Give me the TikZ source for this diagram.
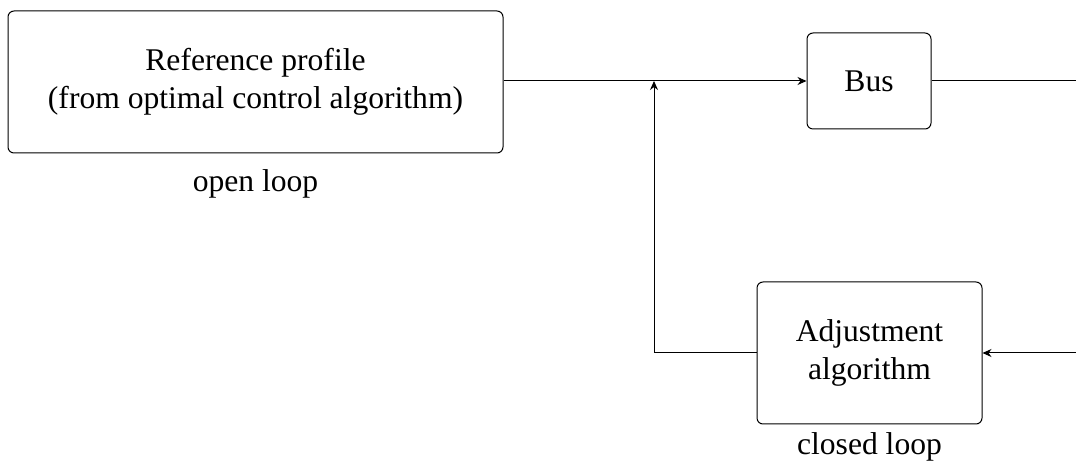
\documentclass[tikz,border=0pt]{standalone}
\usepackage{fontspec}
\setmainfont{Liberation Serif}
\usetikzlibrary{arrows.meta}
\begin{document}
\begin{tikzpicture}[x=0.5pt,y=-0.5pt,
  blk/.style={draw,rounded corners=3pt,line width=0.5pt,align=center,inner sep=0pt,font=\fontsize{15.8}{19}\selectfont},
  lbl/.style={font=\fontsize{15.8}{19}\selectfont,inner sep=0pt},
  conn/.style={line width=0.5pt},
  arr/.style={line width=0.5pt,-{Stealth[length=4.5pt,width=4pt]}}]
\useasboundingbox (0,0) rectangle (1076,469);
\node[blk,minimum width=247.5pt,minimum height=71pt] (ref) at (255.5,82) {Reference profile\\(from optimal control algorithm)};
\node[lbl] (open) at (255.5,184) {open loop};
\node[blk,minimum width=62pt,minimum height=48pt] (bus) at (869,81) {Bus};
\node[blk,minimum width=112.5pt,minimum height=71pt] (adj) at (869.5,353) {Adjustment\\algorithm};
\node[lbl] (closed) at (869.5,447) {closed loop};
\coordinate (j) at (654,81);
\coordinate (jb) at (654,353);
\coordinate (r1) at (1080,81);
\coordinate (r2) at (1080,353);
\draw[arr] (ref.east |- j) -- (bus.west);
\draw[conn] (bus.east) -- (r1) -- (r2);
\draw[arr] (r2) -- (adj.east);
\draw[arr] (adj.west) -- (jb) -- (j);
\end{tikzpicture}
\end{document}
